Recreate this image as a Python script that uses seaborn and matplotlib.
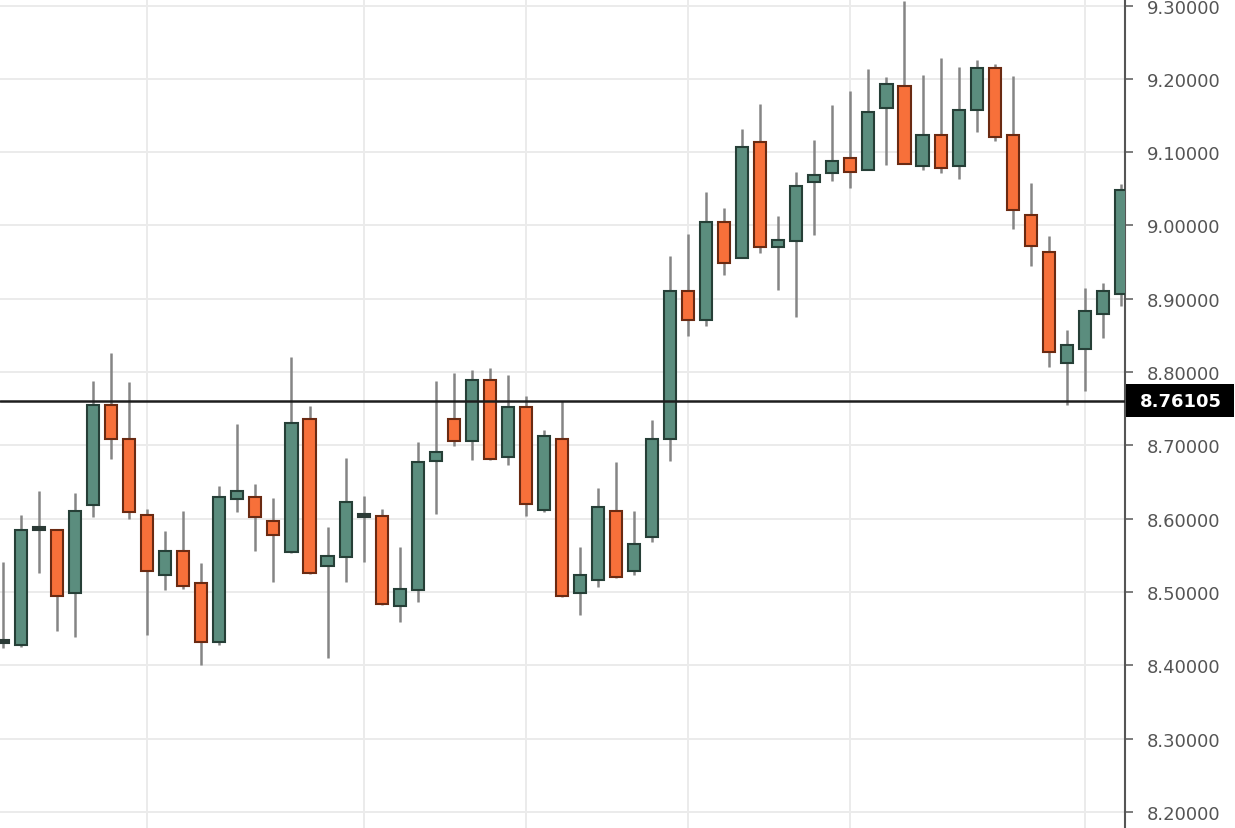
import numpy as np
import pandas as pd
import matplotlib
matplotlib.use("Agg")
import matplotlib.pyplot as plt
from matplotlib.patches import Rectangle
import seaborn as sns

# ---- data (OHLC per candle) ----
opens = [8.432, 8.428, 8.585, 8.585, 8.499, 8.618, 8.755, 8.709, 8.605, 8.523,
         8.556, 8.512, 8.432, 8.627, 8.630, 8.597, 8.555, 8.736, 8.536, 8.548,
         8.604, 8.604, 8.481, 8.503, 8.679, 8.736, 8.706, 8.789, 8.684, 8.753,
         8.612, 8.709, 8.499, 8.517, 8.611, 8.529, 8.575, 8.709, 8.911, 8.871,
         9.005, 8.956, 9.114, 8.971, 8.979, 9.059, 9.072, 9.092, 9.076, 9.160,
         9.190, 9.081, 9.124, 9.081, 9.158, 9.215, 9.124, 9.014, 8.964, 8.813,
         8.832, 8.879, 8.907]
highs = [8.541, 8.605, 8.638, 8.586, 8.635, 8.788, 8.826, 8.787, 8.613, 8.583,
         8.611, 8.540, 8.645, 8.729, 8.647, 8.628, 8.821, 8.754, 8.589, 8.683,
         8.631, 8.613, 8.562, 8.705, 8.788, 8.799, 8.803, 8.806, 8.796, 8.768,
         8.721, 8.761, 8.562, 8.642, 8.678, 8.611, 8.735, 8.959, 8.989, 9.046,
         9.024, 9.132, 9.166, 9.013, 9.073, 9.117, 9.165, 9.184, 9.214, 9.203,
         9.306, 9.205, 9.229, 9.216, 9.226, 9.220, 9.204, 9.058, 8.986, 8.858,
         8.915, 8.922, 9.057]
lows = [8.423, 8.425, 8.526, 8.447, 8.439, 8.602, 8.682, 8.600, 8.441, 8.503,
        8.504, 8.400, 8.428, 8.609, 8.556, 8.514, 8.553, 8.524, 8.410, 8.514,
        8.541, 8.482, 8.459, 8.486, 8.607, 8.699, 8.680, 8.680, 8.673, 8.604,
        8.609, 8.493, 8.469, 8.507, 8.519, 8.523, 8.568, 8.679, 8.849, 8.863,
        8.933, 8.955, 8.963, 8.912, 8.875, 8.987, 9.061, 9.051, 9.076, 9.083,
        9.084, 9.076, 9.072, 9.064, 9.128, 9.115, 8.995, 8.945, 8.807, 8.755,
        8.774, 8.847, 8.890]
closes = [8.432, 8.585, 8.586, 8.495, 8.611, 8.755, 8.709, 8.609, 8.529, 8.556,
          8.508, 8.432, 8.630, 8.638, 8.602, 8.578, 8.731, 8.526, 8.549, 8.623,
          8.604, 8.484, 8.504, 8.678, 8.691, 8.706, 8.789, 8.682, 8.753, 8.620,
          8.713, 8.494, 8.523, 8.616, 8.521, 8.566, 8.709, 8.911, 8.871, 9.005,
          8.949, 9.107, 8.971, 8.980, 9.054, 9.069, 9.088, 9.073, 9.155, 9.193,
          9.084, 9.124, 9.079, 9.158, 9.215, 9.121, 9.021, 8.972, 8.828, 8.837,
          8.884, 8.911, 9.049]
yticks = [8.2, 8.3, 8.4, 8.5, 8.6, 8.7, 8.8, 8.9, 9.0, 9.1, 9.2, 9.3]
vgrid_idx = [8, 20, 29, 38, 47, 60]
last_price = 8.76105

sns.set_theme(style="white")
plt.rcParams['font.family'] = ['DejaVu Sans']

df = pd.DataFrame({"open": opens, "high": highs, "low": lows, "close": closes})
df["idx"] = np.arange(len(df))

UP_FILL, UP_EDGE = "#5b8d7e", "#263f37"
DN_FILL, DN_EDGE = "#f7703a", "#6a2a12"
DOJI = "#2b3a36"

W, H = 1235, 829
fig = plt.figure(figsize=(W / 100, H / 100), dpi=100)
ax = fig.add_axes([0, 0, 1125 / W, 1])

# grid
for v in yticks:
    ax.axhline(v, color="#ebebeb", lw=1.4, zorder=0)
for gi in vgrid_idx:
    ax.axvline(gi, color="#ebebeb", lw=1.4, zorder=0)

# wicks
ax.vlines(df["idx"], df["low"], df["high"], color="#858585", lw=1.8, zorder=2)

# bodies
diff = (df["close"] - df["open"]).abs()
doji = diff < 0.003
up = df["close"] >= df["open"]
bottoms = np.minimum(df["open"], df["close"])
heights = np.where(doji, 0.004, diff)
bottoms = np.where(doji, df["close"] - 0.002, bottoms)
fills = np.where(doji, DOJI, np.where(up, UP_FILL, DN_FILL))
edges = np.where(doji, DOJI, np.where(up, UP_EDGE, DN_EDGE))
ax.bar(df["idx"], heights, bottom=bottoms, width=0.67, color=fills,
       edgecolor=edges, linewidth=1.5, zorder=3)

# last price line
ax.axhline(last_price, color="#1e1e1e", lw=1.8, zorder=4)

ax.set_xlim(-0.166, 62.23)
ax.set_ylim(8.178, 9.309)

for s in ["top", "left", "bottom"]:
    ax.spines[s].set_visible(False)
ax.spines["right"].set_color("#555555")
ax.spines["right"].set_linewidth(1.5)

ax.set_xticks([])
ax.yaxis.tick_right()
ax.set_yticks(yticks)
ax.set_yticklabels([f"{v:.5f}" for v in yticks])
ax.tick_params(axis="y", direction="out", length=6, width=1.2, color="#666666",
               labelsize=13, labelcolor="#555555", pad=10, right=True)

# last price label box (figure coordinates)
_, ypix = ax.transData.transform((0, last_price))
yfrac = ypix / H
box_h = 33 / H
fig.patches.append(Rectangle((1126 / W, yfrac - box_h / 2), 108 / W, box_h,
                             transform=fig.transFigure, facecolor="black",
                             edgecolor="none", zorder=5))
fig.text(1140 / W, yfrac, f"{last_price:.5f}", ha="left", va="center",
         color="white", fontsize=13, fontweight="bold", zorder=6)

fig.savefig("out.png", dpi=100)
